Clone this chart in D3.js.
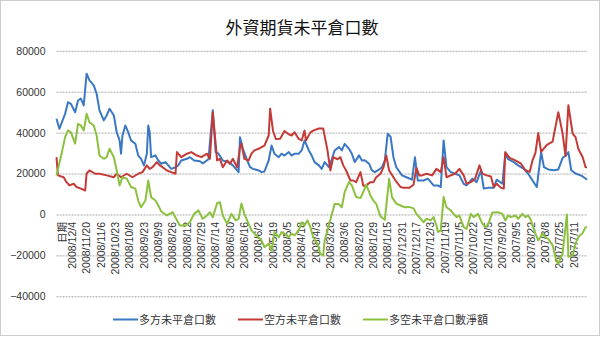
<!DOCTYPE html>
<html><head><meta charset="utf-8">
<script src="https://cdn.jsdelivr.net/npm/d3@7"></script>
<style>
html,body{margin:0;padding:0;background:#fff;}
svg{display:block;}
text{font-family:"Liberation Sans","Noto Sans CJK TC",Arial,sans-serif;fill:#333;}
</style></head>
<body>
<svg id="chart" width="600" height="337"></svg>
<script>
// ---- data (category index = trading-day position, newest first) ----
const title = "外資期貨未平倉口數";
const seriesNames = ["多方未平倉口數", "空方未平倉口數", "多空未平倉口數淨額"];
const firstLabel = "日期";
const dateLabels = ["2008/12/4","2008/11/20","2008/11/6","2008/10/23","2008/10/8","2008/9/23","2008/9/9","2008/8/26","2008/8/12","2008/7/29","2008/7/14","2008/6/30","2008/6/16","2008/6/2","2008/5/19","2008/5/5","2008/4/18","2008/4/3","2008/3/20","2008/3/6","2008/2/20","2008/1/29","2008/1/15","2007/12/31","2007/12/17","2007/12/3","2007/11/19","2007/11/5","2007/10/22","2007/10/5","2007/9/20","2007/9/5","2007/8/22","2007/8/8","2007/7/25","2007/7/11"];
const yTicks = [-40000, -20000, 0, 20000, 40000, 60000, 80000];
const categoryCount = 371;

const longOI = [[0,46800],[2,41900],[6,49200],[8,54900],[10,54100],[13,50000],[15,55700],[17,56600],[19,53300],[21,68800],[23,65500],[26,63100],[28,59000],[30,50900],[33,46000],[35,48400],[37,51700],[40,48400],[42,40200],[44,36200],[45,29700],[46,38600],[48,43500],[50,40200],[52,36200],[55,34600],[57,28800],[59,27200],[61,24000],[63,29700],[64,43500],[65,40200],[66,28000],[69,28800],[71,26400],[73,24800],[76,25600],[78,24000],[80,22300],[83,23100],[85,24000],[87,26400],[91,27200],[93,28000],[96,26400],[100,26000],[102,25000],[106,27000],[109,51000],[111,30500],[113,29700],[116,26400],[120,25600],[123,24000],[127,20700],[128,37800],[130,32100],[133,26400],[135,23100],[137,22300],[141,21500],[143,20700],[145,21000],[148,26400],[150,33700],[152,29700],[155,28000],[157,29700],[159,28800],[162,30500],[164,28800],[166,29700],[169,29700],[171,31300],[173,36200],[176,31300],[178,28800],[180,25600],[183,24000],[185,22300],[187,25600],[190,23100],[192,27000],[194,31300],[197,33000],[199,31300],[201,34500],[204,32100],[206,29700],[208,25600],[211,28900],[213,26400],[215,26500],[218,24800],[220,21500],[222,20700],[224,21500],[227,23100],[229,26400],[231,39500],[233,38000],[235,28000],[237,23100],[241,19100],[244,18200],[248,17000],[250,28000],[252,16600],[256,16600],[259,17500],[263,14200],[266,14200],[268,13400],[270,36200],[272,23100],[275,20700],[278,19900],[281,19100],[284,15000],[286,14200],[290,17500],[293,15800],[296,21500],[298,12700],[301,13000],[305,13000],[307,17000],[311,15000],[313,29700],[315,27000],[319,25600],[322,24000],[326,22300],[329,19900],[332,16600],[335,13400],[338,30500],[340,23100],[343,22000],[347,21600],[350,22000],[353,27700],[355,28600],[357,30500],[359,21600],[362,20000],[366,19000],[369,17600],[370,17000]];

const shortOI = [[0,28000],[1,19100],[5,18200],[7,15800],[9,14200],[12,15000],[14,13400],[17,12600],[20,11700],[21,20000],[23,21500],[27,19900],[30,19900],[35,19100],[40,18200],[42,19900],[45,18200],[49,19900],[53,18200],[57,19900],[60,20700],[63,24000],[65,22300],[67,23100],[70,25600],[72,24000],[74,23100],[77,21500],[80,20700],[83,19900],[84,30500],[87,28000],[91,29700],[94,30500],[98,28800],[101,28000],[105,29700],[107,27200],[109,50000],[111,34600],[112,26400],[114,27200],[116,23100],[119,26400],[121,24800],[123,27200],[126,23000],[128,32900],[129,34600],[131,27200],[134,26400],[136,29700],[138,31300],[141,32100],[143,32900],[145,33700],[148,38600],[149,51700],[151,40800],[153,36900],[156,37000],[159,40800],[162,39200],[164,38600],[166,40200],[169,36900],[171,36200],[173,41000],[174,36200],[177,40000],[179,41000],[183,42000],[186,42000],[189,31300],[191,21500],[193,28000],[196,27000],[198,28000],[200,24000],[202,21500],[205,16600],[207,16600],[209,15800],[212,20700],[214,14000],[216,14200],[219,15800],[221,15800],[223,18200],[226,19900],[228,23000],[230,28800],[232,21500],[235,18200],[237,16000],[240,13400],[242,13000],[246,13000],[249,14500],[251,22800],[253,19100],[255,19100],[258,19900],[262,19100],[265,22300],[268,20700],[270,28000],[272,18200],[275,19100],[278,19900],[281,22300],[284,19100],[286,15000],[289,15800],[292,17500],[295,24000],[297,20000],[300,19100],[303,18600],[305,13400],[307,15000],[310,13000],[312,12700],[313,30500],[316,27700],[320,26400],[324,24800],[327,21600],[330,20800],[332,26400],[334,30000],[336,39800],[338,30600],[342,34000],[346,35600],[350,50000],[353,39500],[355,28600],[357,53400],[360,39500],[362,37800],[364,32000],[367,28000],[369,23100],[370,23100]];

const netOI = [[0,19100],[3,28000],[6,37800],[8,41100],[10,40200],[13,34600],[15,44300],[17,43500],[19,41100],[21,49200],[23,45100],[26,43500],[28,38600],[30,28800],[33,27200],[35,28000],[37,32100],[40,28000],[42,21500],[44,14200],[46,18200],[49,17500],[52,13400],[55,12600],[57,6800],[59,3500],[62,6800],[64,16600],[66,8400],[69,6800],[71,4400],[73,1600],[77,-500],[81,1100],[86,-5400],[90,-5400],[93,-3800],[96,300],[99,2000],[102,-2100],[105,-500],[107,1100],[109,-1300],[112,5500],[114,6000],[116,-500],[119,-4600],[121,-1300],[122,300],[125,-2900],[127,-2100],[129,5400],[131,300],[134,-4600],[136,-7800],[138,-9400],[141,-11100],[143,-12700],[145,-16000],[148,-14300],[150,-17600],[152,-8600],[155,-11100],[157,-8600],[159,-9400],[162,-11100],[164,-9400],[166,-10200],[169,-7800],[171,-3800],[173,-5400],[175,-2900],[177,-6000],[179,-11100],[182,-14300],[184,-19200],[186,-20000],[187,-12700],[189,-7800],[192,0],[194,5200],[197,5000],[199,3500],[201,11000],[204,15800],[206,14200],[209,8500],[212,8000],[214,11000],[216,14600],[219,9300],[221,6800],[223,5200],[226,-1000],[229,-2600],[232,17500],[234,8500],[237,5300],[240,4400],[243,3500],[246,3700],[249,3000],[251,300],[254,-2100],[256,-3800],[258,-2100],[261,-2900],[263,-1300],[265,-5400],[266,-8600],[268,-7800],[270,8500],[272,3500],[275,2000],[277,300],[279,-1300],[281,-500],[284,-6200],[286,-7000],[289,300],[291,-1300],[294,300],[297,-4500],[299,-6200],[301,-5000],[304,1000],[306,1000],[308,1100],[311,300],[313,-2900],[315,-500],[317,-1300],[320,-500],[322,-2100],[325,300],[327,-1300],[329,-500],[331,-3000],[334,-9400],[336,-12700],[339,-9400],[341,-11000],[343,-12000],[346,-15000],[348,-20900],[350,-24100],[353,-19000],[355,-6200],[356,0],[357,-20700],[360,-20000],[362,-14300],[364,-11000],[367,-9000],[369,-6200],[370,-6200]];

const colors = ["#3a78c4", "#c43a36", "#8cc13f"];

// ---- layout ----
const svg = d3.select("#chart");
const plot = {left: 56.5, right: 587, top: 50.8, bottom: 296.3};

svg.append("rect").attr("x",0.5).attr("y",0.5).attr("width",599).attr("height",335)
  .attr("fill","#fff").attr("stroke","#999").attr("stroke-dasharray","1,1");

const x = d3.scaleLinear().domain([0, categoryCount - 1]).range([plot.left, plot.right]);
const y = d3.scaleLinear().domain([-40000, 80000]).range([plot.bottom, plot.top]);

// title
svg.append("text").attr("x", 302).attr("y", 34).attr("text-anchor","middle")
  .style("font-family","'Noto Sans CJK TC',sans-serif").style("font-size","17px").style("fill","#111")
  .text(title);

// grid + y axis
const yAxis = d3.axisLeft(y).tickValues(yTicks).tickSize(-(plot.right - plot.left)).tickFormat(d3.format("d"));
const gy = svg.append("g").attr("transform", `translate(${plot.left},0)`).call(yAxis);
gy.select(".domain").remove();
gy.selectAll(".tick line").attr("stroke","#aaa").attr("stroke-dasharray","2,1");
gy.selectAll(".tick text").attr("x", -11).style("font-size","10.5px").style("fill","#333");

// x category labels (rotated)
const labelData = [{i: 4, t: firstLabel}].concat(dateLabels.map((t, k) => ({i: 11 + 10 * k, t})));
svg.append("g").selectAll("text").data(labelData).join("text")
  .attr("transform", d => `translate(${x(d.i)},222) rotate(-90)`)
  .attr("text-anchor","end").attr("dy","0.35em")
  .style("font-size","10.5px").style("fill","#333")
  .text(d => d.t);

// lines
const line = d3.line().x(d => x(d[0])).y(d => y(d[1]));
[longOI, shortOI, netOI].forEach((s, k) => {
  svg.append("path").datum(s).attr("d", line).attr("fill","none")
    .attr("stroke", colors[k]).attr("stroke-width", 2).attr("stroke-linejoin","round");
});

// legend
const legendX = [113, 238, 363];
const lg = svg.append("g");
seriesNames.forEach((n, k) => {
  lg.append("line").attr("x1", legendX[k]).attr("x2", legendX[k] + 25).attr("y1", 319.5).attr("y2", 319.5)
    .attr("stroke", colors[k]).attr("stroke-width", 2);
  lg.append("text").attr("x", legendX[k] + 26).attr("y", 323.5)
    .style("font-family","'Noto Sans CJK TC',sans-serif").style("font-size","11px").style("fill","#333").text(n);
});
</script>
</body></html>
